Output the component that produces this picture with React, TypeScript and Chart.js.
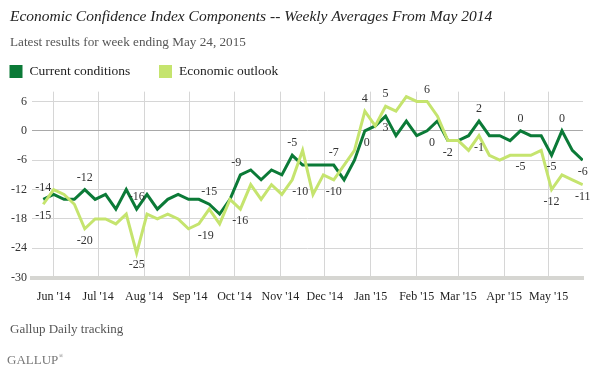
import React, { useEffect, useRef } from 'react';
import { Chart, registerables } from 'chart.js';

Chart.register(...registerables);

const weekEnding = [
  '2014-05-25', '2014-06-01', '2014-06-08', '2014-06-15', '2014-06-22', '2014-06-29',
  '2014-07-06', '2014-07-13', '2014-07-20', '2014-07-27', '2014-08-03', '2014-08-10',
  '2014-08-17', '2014-08-24', '2014-08-31', '2014-09-07', '2014-09-14', '2014-09-21',
  '2014-09-28', '2014-10-05', '2014-10-12', '2014-10-19', '2014-10-26', '2014-11-02',
  '2014-11-09', '2014-11-16', '2014-11-23', '2014-11-30', '2014-12-07', '2014-12-14',
  '2014-12-21', '2014-12-28', '2015-01-04', '2015-01-11', '2015-01-18', '2015-01-25',
  '2015-02-01', '2015-02-08', '2015-02-15', '2015-02-22', '2015-03-01', '2015-03-08',
  '2015-03-15', '2015-03-22', '2015-03-29', '2015-04-05', '2015-04-12', '2015-04-19',
  '2015-04-26', '2015-05-03', '2015-05-10', '2015-05-17', '2015-05-24',
];

const currentConditions = [
  -14, -13, -14, -14, -12, -14, -13, -16, -12, -16,
  -13, -16, -14, -13, -14, -14, -15, -17, -14, -9,
  -8, -10, -8, -9, -5, -7, -7, -7, -7, -10,
  -6, 0, 1, 3, -1, 2, -1, 0, 2, -2,
  -2, -1, 2, -1, -1, -2, 0, -1, -1, -5,
  0, -4, -6,
];

const economicOutlook = [
  -15, -12, -13, -15, -20, -18, -18, -19, -17, -25,
  -17, -18, -17, -18, -20, -19, -16, -19, -14, -16,
  -11, -14, -11, -13, -10, -4, -13, -9, -10, -7,
  -4, 4, 1, 5, 4, 7, 6, 6, 3, -2,
  -2, -4, -1, -5, -6, -5, -5, -5, -4, -12,
  -9, -10, -11,
];

const monthStarts = [
  '2014-06-01', '2014-07-01', '2014-08-01', '2014-09-01', '2014-10-01', '2014-11-01',
  '2014-12-01', '2015-01-01', '2015-02-01', '2015-03-01', '2015-04-01', '2015-05-01',
];
const monthLabels = [
  "Jun '14", "Jul '14", "Aug '14", "Sep '14", "Oct '14", "Nov '14",
  "Dec '14", "Jan '15", "Feb '15", "Mar '15", "Apr '15", "May '15",
];

const yTicks = [-30, -24, -18, -12, -6, 0, 6];

const seriesNames = ['Current conditions', 'Economic outlook'];
const seriesColors = ['#0b7a37', '#c5e46e'];

// which points carry a value label: series, index, side (-1 above, 1 below), x nudge
const pointLabels: [number, number, number, number][] = [
  [0, 0, -1, 0], [1, 0, 1, 0],
  [0, 4, -1, 0], [1, 4, 1, 0],
  [0, 9, -1, 0], [1, 9, 1, 0],
  [0, 16, -1, 0], [1, 15, 1, 7],
  [0, 19, -1, -4], [1, 19, 1, 0],
  [0, 24, -1, 0], [1, 24, 1, 8],
  [0, 28, -1, 0], [1, 28, 1, 0],
  [1, 31, -1, 0], [0, 31, 1, 2],
  [1, 33, -1, 0], [0, 33, 1, 0],
  [1, 37, -1, 0], [0, 37, 1, 5],
  [1, 39, 1, 0],
  [0, 42, -1, 0], [1, 42, 1, 0],
  [0, 46, -1, 0], [1, 46, 1, 0],
  [0, 49, 1, 0], [1, 49, 1, 0],
  [0, 50, -1, 0],
  [0, 52, 1, 0], [1, 52, 1, 0],
];

const SERIF = '"Liberation Serif", "DejaVu Serif", serif';
const BASE = Date.parse('2014-05-25T00:00:00Z');
const dayOf = (s: string) => (Date.parse(s + 'T00:00:00Z') - BASE) / 864e5;

const overlayPlugin = {
  id: 'overlay',
  afterDatasetsDraw(chart: any) {
    const ctx = chart.ctx;
    const values = [currentConditions, economicOutlook];
    ctx.save();
    ctx.font = `12px ${SERIF}`;
    ctx.fillStyle = '#333';
    ctx.textAlign = 'center';
    ctx.textBaseline = 'middle';
    for (const [s, i, side, dx] of pointLabels) {
      const pt = chart.getDatasetMeta(s).data[i];
      if (!pt) continue;
      ctx.fillText(String(values[s][i]), pt.x + dx, pt.y + side * 12);
    }
    ctx.restore();
  },
  afterDraw(chart: any) {
    const ctx = chart.ctx;
    ctx.save();
    // legend
    const lx = [9.5, 159];
    ctx.font = `13.5px ${SERIF}`;
    ctx.textAlign = 'left';
    ctx.textBaseline = 'middle';
    for (let k = 0; k < seriesNames.length; k++) {
      ctx.fillStyle = seriesColors[k];
      ctx.fillRect(lx[k], 65, 13, 13);
      ctx.fillStyle = '#222';
      ctx.fillText(seriesNames[k], lx[k] + 20, 71.5);
    }
    // footer
    ctx.font = `13px ${SERIF}`;
    ctx.fillStyle = '#555';
    ctx.fillText('Gallup Daily tracking', 10, 330);
    ctx.font = `13px ${SERIF}`;
    ctx.fillStyle = '#777';
    ctx.fillText('GALLUP', 7, 361);
    const w = ctx.measureText('GALLUP').width;
    ctx.font = `6px ${SERIF}`;
    ctx.fillText('®', 7 + w + 0.5, 356);
    ctx.restore();
  },
};

export default function App() {
  const canvasRef = useRef<HTMLCanvasElement | null>(null);

  useEffect(() => {
    const canvas = canvasRef.current;
    if (!canvas) return;
    const xs = weekEnding.map(dayOf);
    const monthDays = monthStarts.map(dayOf);
    const chart = new Chart(canvas, {
      type: 'line',
      data: {
        datasets: [
          {
            label: seriesNames[0],
            data: currentConditions.map((v, i) => ({ x: xs[i], y: v })),
            borderColor: seriesColors[0],
            backgroundColor: seriesColors[0],
            borderWidth: 3,
            pointRadius: 0,
            tension: 0,
            order: 1,
          },
          {
            label: seriesNames[1],
            data: economicOutlook.map((v, i) => ({ x: xs[i], y: v })),
            borderColor: seriesColors[1],
            backgroundColor: seriesColors[1],
            borderWidth: 3,
            pointRadius: 0,
            tension: 0,
            order: 0,
          },
        ],
      },
      options: {
        animation: false,
        responsive: false,
        devicePixelRatio: 1,
        layout: { padding: { left: 10, right: 8, top: 0, bottom: 56.3 } },
        plugins: {
          legend: { display: false },
          tooltip: { enabled: false },
          title: {
            display: true,
            text: 'Economic Confidence Index Components -- Weekly Averages From May 2014',
            align: 'start',
            color: '#222',
            font: { family: SERIF, size: 15.5, style: 'italic', weight: 'normal' },
            padding: { top: 8, bottom: 0 },
          },
          subtitle: {
            display: true,
            text: 'Latest results for week ending May 24, 2015',
            align: 'start',
            color: '#555',
            font: { family: SERIF, size: 13.2, weight: 'normal' },
            padding: { top: 8, bottom: 41.2 },
          },
        },
        scales: {
          x: {
            type: 'linear',
            min: -7.6,
            max: 364.2,
            afterBuildTicks: (scale: any) => {
              scale.ticks = monthDays.map((d) => ({ value: d }));
            },
            afterFit: (scale: any) => {
              scale.height = 40;
            },
            ticks: {
              autoSkip: false,
              maxRotation: 0,
              padding: 12,
              color: '#222',
              font: { family: SERIF, size: 12 },
              callback: (_v: any, i: number) => monthLabels[i],
            },
            grid: { color: '#d6d6d6', lineWidth: 1, drawTicks: false },
            border: { display: true, color: '#d6d6d2', width: 4 },
          },
          y: {
            min: -30,
            max: 8,
            afterBuildTicks: (scale: any) => {
              scale.ticks = yTicks.map((v) => ({ value: v }));
            },
            afterFit: (scale: any) => {
              scale.width = 22;
            },
            ticks: {
              padding: 5,
              color: '#333',
              font: { family: SERIF, size: 12 },
              callback: (v: any) => String(v),
            },
            grid: {
              color: (c: any) => (c.tick && c.tick.value === 0 ? '#a9a9a9' : '#d6d6d6'),
              lineWidth: 1,
              drawTicks: false,
            },
            border: { display: false },
          },
        },
      },
      plugins: [overlayPlugin],
    });
    return () => chart.destroy();
  }, []);

  return (
    <div style={{ position: 'fixed', left: 0, top: 0, width: 591, height: 374, background: '#fff' }}>
      <canvas ref={canvasRef} width={591} height={374} />
    </div>
  );
}
